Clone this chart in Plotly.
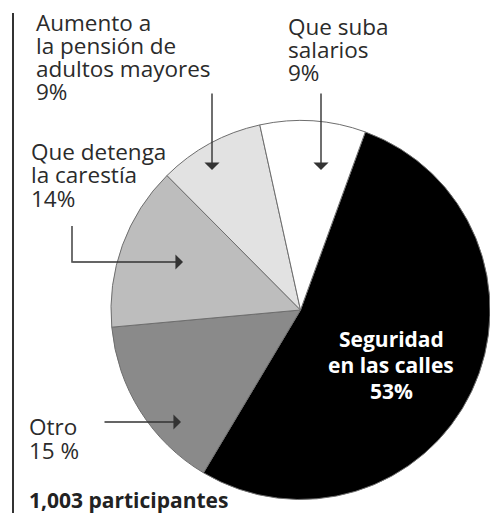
import plotly.graph_objects as go

W, H = 490, 523

# ---- data ----
categories = ["Seguridad en las calles", "Otro", "Que detenga la carestía",
              "Aumento a la pensión de adultos mayores", "Que suba salarios"]
values = [53, 15, 14, 9, 9]
pct_labels = ["53%", "15 %", "14%", "9%", "9%"]
label_lines = [
    ["Seguridad", "en las calles"],
    ["Otro"],
    ["Que detenga", "la carestía"],
    ["Aumento a", "la pensión de", "adultos mayores"],
    ["Que suba", "salarios"],
]
slice_colors = ["#000000", "#8a8a8a", "#bdbdbd", "#e2e2e2", "#ffffff"]
footer = "1,003 participantes"

# ---- layout helpers (pixel -> paper) ----
def px(x):
    return x / W

def py(y):
    return 1 - y / H

TEXT = "#2b2b2b"
FONT = "Open Sans"

fig = go.Figure()
fig.add_trace(go.Pie(
    labels=categories, values=values, sort=False, direction="clockwise",
    rotation=20, textinfo="none", hoverinfo="skip",
    marker=dict(colors=slice_colors, line=dict(color="#6e6e6e", width=1)),
    domain=dict(x=[px(111), 1.0], y=[py(500), py(120)]),
    showlegend=False,
))

annotations = []
shapes = []

def text_line(s, x, baseline, size=22, color=TEXT, bold=False, anchor="left"):
    annotations.append(dict(
        text=s, x=px(x), y=py(baseline - 0.39 * size), xref="paper", yref="paper",
        xanchor=anchor, yanchor="middle", showarrow=False, borderpad=0,
        font=dict(family=FONT, size=size, color=color,
                  weight="bold" if bold else "normal"),
    ))

# label blocks: (index, left x, first baseline, spacing)
blocks = [(3, 35, 31, 23), (4, 287, 35, 23), (2, 30, 160, 23.5), (1, 28, 435, 24)]
for idx, x0, b0, sp in blocks:
    lines = label_lines[idx] + [pct_labels[idx]]
    for k, s in enumerate(lines):
        text_line(s, x0, b0 + k * sp, size=22.5)

# main slice label (white, bold, centred)
for k, s in enumerate(label_lines[0] + [pct_labels[0]]):
    text_line(s, 391, 347 + k * 26, size=21, color="#ffffff", bold=True, anchor="center")

text_line(footer, 28, 508, size=21, color="#222222", bold=True)

def arrow(tail, tip):
    annotations.append(dict(
        text="", x=px(tip[0]), y=py(tip[1]), xref="paper", yref="paper",
        ax=tail[0] - tip[0], ay=tail[1] - tip[1], axref="pixel", ayref="pixel",
        showarrow=True, arrowhead=1, arrowwidth=1.4, arrowsize=1.8,
        arrowcolor="#333333", standoff=0, startstandoff=0, borderpad=0,
    ))

arrow((212, 93), (212, 170))
arrow((321, 93), (321, 170))
arrow((72, 262), (183, 262))
arrow((104, 422), (181, 422))

shapes.append(dict(type="line", xref="paper", yref="paper",
                   x0=px(72), x1=px(72), y0=py(226), y1=py(262.7),
                   line=dict(color="#333333", width=1.4)))
shapes.append(dict(type="line", xref="paper", yref="paper",
                   x0=px(13), x1=px(13), y0=py(13), y1=py(513),
                   line=dict(color="#333333", width=2)))

fig.update_layout(
    width=W, height=H, margin=dict(l=0, r=0, t=0, b=0),
    paper_bgcolor="#ffffff", plot_bgcolor="#ffffff",
    annotations=annotations, shapes=shapes,
    font=dict(family=FONT),
)

fig.write_html("out.html", config={"displayModeBar": False},
               post_script="document.body.style.margin='0';document.body.style.overflow='hidden';")
